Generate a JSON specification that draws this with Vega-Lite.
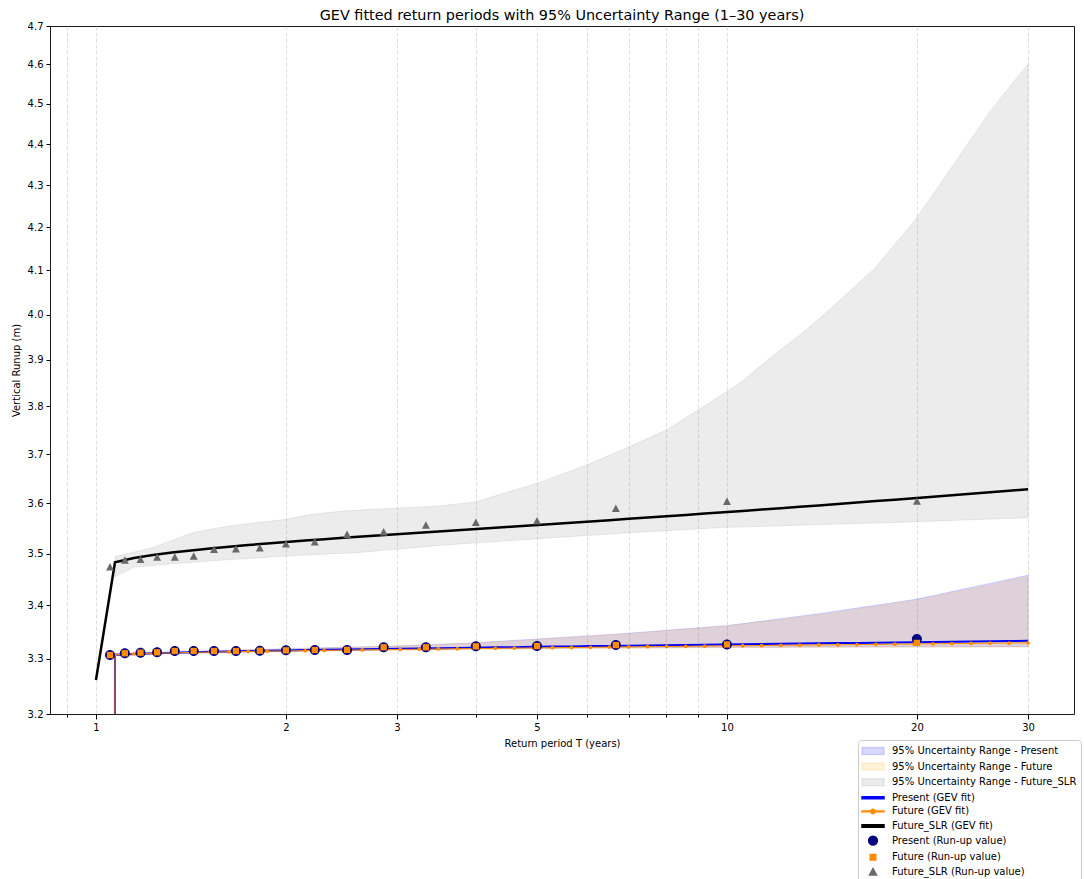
{
  "$schema": "https://vega.github.io/schema/vega-lite/v6.json",
  "width": 1024,
  "height": 688,
  "autosize": {"type": "none"},
  "padding": {"left": 50, "top": 26, "right": 10, "bottom": 165},
  "background": "white",
  "title": {
    "text": "GEV fitted return periods with 95% Uncertainty Range (1–30 years)",
    "font": "DejaVu Sans",
    "fontSize": 14.4,
    "fontWeight": "normal",
    "color": "black",
    "anchor": "middle",
    "offset": -2
  },
  "config": {
    "view": {"stroke": "#1a1a1a", "strokeWidth": 1},
    "font": "DejaVu Sans",
    "axis": {
      "labelFont": "DejaVu Sans",
      "labelFontSize": 10,
      "labelColor": "black",
      "titleFont": "DejaVu Sans",
      "titleFontSize": 10,
      "titleFontWeight": "normal",
      "titleColor": "black",
      "tickColor": "black",
      "domain": false
    }
  },
  "datasets": {
    "fit": [
      {"T": 1.0, "present": 0.001, "future": 0.001, "slr": 3.2613},
      {"T": 1.0719, "present": 3.3077, "future": 3.3080, "slr": 3.4833, "present_lo": 3.3062, "present_hi": 3.3090, "future_lo": 3.3054, "future_hi": 3.3085, "slr_lo": 3.4551, "slr_hi": 3.4940},
      {"T": 1.1489, "present": 3.3093, "future": 3.3094, "slr": 3.4914, "present_lo": 3.3078, "present_hi": 3.3101, "future_lo": 3.3070, "future_hi": 3.3096, "slr_lo": 3.4738, "slr_hi": 3.5029},
      {"T": 1.2315, "present": 3.3105, "future": 3.3104, "slr": 3.4972, "present_lo": 3.3090, "present_hi": 3.3112, "future_lo": 3.3082, "future_hi": 3.3107, "slr_lo": 3.4770, "slr_hi": 3.5118},
      {"T": 1.3200, "present": 3.3115, "future": 3.3112, "slr": 3.5020, "present_lo": 3.3100, "present_hi": 3.3123, "future_lo": 3.3092, "future_hi": 3.3118, "slr_lo": 3.4800, "slr_hi": 3.5257},
      {"T": 1.4149, "present": 3.3123, "future": 3.3120, "slr": 3.5062, "present_lo": 3.3108, "present_hi": 3.3135, "future_lo": 3.3100, "future_hi": 3.3130, "slr_lo": 3.4828, "slr_hi": 3.5403},
      {"T": 1.5166, "present": 3.3131, "future": 3.3126, "slr": 3.5100, "present_lo": 3.3116, "present_hi": 3.3146, "future_lo": 3.3108, "future_hi": 3.3141, "slr_lo": 3.4856, "slr_hi": 3.5479},
      {"T": 1.6256, "present": 3.3138, "future": 3.3132, "slr": 3.5135, "present_lo": 3.3123, "present_hi": 3.3157, "future_lo": 3.3115, "future_hi": 3.3152, "slr_lo": 3.4883, "slr_hi": 3.5544},
      {"T": 1.7425, "present": 3.3145, "future": 3.3138, "slr": 3.5167, "present_lo": 3.3129, "present_hi": 3.3168, "future_lo": 3.3121, "future_hi": 3.3163, "slr_lo": 3.4906, "slr_hi": 3.5589},
      {"T": 1.8677, "present": 3.3151, "future": 3.3143, "slr": 3.5198, "present_lo": 3.3135, "present_hi": 3.3179, "future_lo": 3.3127, "future_hi": 3.3174, "slr_lo": 3.4930, "slr_hi": 3.5633},
      {"T": 2.0020, "present": 3.3157, "future": 3.3148, "slr": 3.5228, "present_lo": 3.3140, "present_hi": 3.3190, "future_lo": 3.3132, "future_hi": 3.3185, "slr_lo": 3.4953, "slr_hi": 3.5677},
      {"T": 2.1459, "present": 3.3163, "future": 3.3153, "slr": 3.5257, "present_lo": 3.3145, "present_hi": 3.3199, "future_lo": 3.3137, "future_hi": 3.3194, "slr_lo": 3.4971, "slr_hi": 3.5757},
      {"T": 2.3001, "present": 3.3168, "future": 3.3158, "slr": 3.5284, "present_lo": 3.3150, "present_hi": 3.3207, "future_lo": 3.3142, "future_hi": 3.3202, "slr_lo": 3.4988, "slr_hi": 3.5801},
      {"T": 2.4655, "present": 3.3174, "future": 3.3162, "slr": 3.5311, "present_lo": 3.3155, "present_hi": 3.3216, "future_lo": 3.3147, "future_hi": 3.3211, "slr_lo": 3.5005, "slr_hi": 3.5843},
      {"T": 2.6427, "present": 3.3179, "future": 3.3167, "slr": 3.5337, "present_lo": 3.3160, "present_hi": 3.3224, "future_lo": 3.3152, "future_hi": 3.3219, "slr_lo": 3.5027, "slr_hi": 3.5866},
      {"T": 2.8327, "present": 3.3184, "future": 3.3171, "slr": 3.5362, "present_lo": 3.3164, "present_hi": 3.3233, "future_lo": 3.3156, "future_hi": 3.3228, "slr_lo": 3.5060, "slr_hi": 3.5885},
      {"T": 3.0363, "present": 3.3189, "future": 3.3175, "slr": 3.5387, "present_lo": 3.3168, "present_hi": 3.3243, "future_lo": 3.3160, "future_hi": 3.3238, "slr_lo": 3.5093, "slr_hi": 3.5904},
      {"T": 3.2545, "present": 3.3194, "future": 3.3179, "slr": 3.5412, "present_lo": 3.3172, "present_hi": 3.3257, "future_lo": 3.3164, "future_hi": 3.3252, "slr_lo": 3.5126, "slr_hi": 3.5923},
      {"T": 3.4885, "present": 3.3199, "future": 3.3184, "slr": 3.5436, "present_lo": 3.3176, "present_hi": 3.3272, "future_lo": 3.3168, "future_hi": 3.3267, "slr_lo": 3.5159, "slr_hi": 3.5942},
      {"T": 3.7392, "present": 3.3204, "future": 3.3188, "slr": 3.5461, "present_lo": 3.3180, "present_hi": 3.3286, "future_lo": 3.3172, "future_hi": 3.3281, "slr_lo": 3.5186, "slr_hi": 3.5986},
      {"T": 4.0080, "present": 3.3209, "future": 3.3192, "slr": 3.5485, "present_lo": 3.3184, "present_hi": 3.3301, "future_lo": 3.3176, "future_hi": 3.3296, "slr_lo": 3.5212, "slr_hi": 3.6031},
      {"T": 4.2961, "present": 3.3214, "future": 3.3196, "slr": 3.5510, "present_lo": 3.3187, "present_hi": 3.3323, "future_lo": 3.3179, "future_hi": 3.3313, "slr_lo": 3.5237, "slr_hi": 3.6148},
      {"T": 4.6049, "present": 3.3218, "future": 3.3200, "slr": 3.5535, "present_lo": 3.3190, "present_hi": 3.3344, "future_lo": 3.3182, "future_hi": 3.3334, "slr_lo": 3.5262, "slr_hi": 3.6264},
      {"T": 4.9359, "present": 3.3223, "future": 3.3203, "slr": 3.5560, "present_lo": 3.3193, "present_hi": 3.3366, "future_lo": 3.3185, "future_hi": 3.3356, "slr_lo": 3.5288, "slr_hi": 3.6380},
      {"T": 5.2907, "present": 3.3228, "future": 3.3207, "slr": 3.5585, "present_lo": 3.3196, "present_hi": 3.3388, "future_lo": 3.3188, "future_hi": 3.3378, "slr_lo": 3.5312, "slr_hi": 3.6518},
      {"T": 5.6710, "present": 3.3232, "future": 3.3211, "slr": 3.5610, "present_lo": 3.3199, "present_hi": 3.3409, "future_lo": 3.3191, "future_hi": 3.3399, "slr_lo": 3.5337, "slr_hi": 3.6661},
      {"T": 6.0786, "present": 3.3237, "future": 3.3215, "slr": 3.5635, "present_lo": 3.3201, "present_hi": 3.3431, "future_lo": 3.3193, "future_hi": 3.3421, "slr_lo": 3.5361, "slr_hi": 3.6810},
      {"T": 6.5155, "present": 3.3241, "future": 3.3219, "slr": 3.5661, "present_lo": 3.3203, "present_hi": 3.3453, "future_lo": 3.3195, "future_hi": 3.3443, "slr_lo": 3.5386, "slr_hi": 3.6978},
      {"T": 6.9838, "present": 3.3246, "future": 3.3222, "slr": 3.5687, "present_lo": 3.3205, "present_hi": 3.3478, "future_lo": 3.3197, "future_hi": 3.3468, "slr_lo": 3.5410, "slr_hi": 3.7148},
      {"T": 7.4858, "present": 3.3250, "future": 3.3226, "slr": 3.5712, "present_lo": 3.3207, "present_hi": 3.3505, "future_lo": 3.3199, "future_hi": 3.3495, "slr_lo": 3.5431, "slr_hi": 3.7324},
      {"T": 8.0239, "present": 3.3254, "future": 3.3230, "slr": 3.5739, "present_lo": 3.3209, "present_hi": 3.3533, "future_lo": 3.3201, "future_hi": 3.3523, "slr_lo": 3.5452, "slr_hi": 3.7501},
      {"T": 8.6006, "present": 3.3259, "future": 3.3233, "slr": 3.5765, "present_lo": 3.3211, "present_hi": 3.3560, "future_lo": 3.3203, "future_hi": 3.3550, "slr_lo": 3.5473, "slr_hi": 3.7758},
      {"T": 9.2188, "present": 3.3263, "future": 3.3237, "slr": 3.5792, "present_lo": 3.3213, "present_hi": 3.3588, "future_lo": 3.3205, "future_hi": 3.3578, "slr_lo": 3.5494, "slr_hi": 3.8014},
      {"T": 9.8815, "present": 3.3267, "future": 3.3241, "slr": 3.5818, "present_lo": 3.3214, "present_hi": 3.3615, "future_lo": 3.3206, "future_hi": 3.3605, "slr_lo": 3.5515, "slr_hi": 3.8273},
      {"T": 10.5918, "present": 3.3272, "future": 3.3244, "slr": 3.5845, "present_lo": 3.3216, "present_hi": 3.3658, "future_lo": 3.3208, "future_hi": 3.3648, "slr_lo": 3.5527, "slr_hi": 3.8543},
      {"T": 11.3531, "present": 3.3276, "future": 3.3248, "slr": 3.5873, "present_lo": 3.3217, "present_hi": 3.3705, "future_lo": 3.3209, "future_hi": 3.3695, "slr_lo": 3.5538, "slr_hi": 3.8893},
      {"T": 12.1691, "present": 3.3280, "future": 3.3252, "slr": 3.5900, "present_lo": 3.3218, "present_hi": 3.3751, "future_lo": 3.3210, "future_hi": 3.3731, "slr_lo": 3.5550, "slr_hi": 3.9229},
      {"T": 13.0438, "present": 3.3285, "future": 3.3255, "slr": 3.5928, "present_lo": 3.3219, "present_hi": 3.3798, "future_lo": 3.3211, "future_hi": 3.3778, "slr_lo": 3.5561, "slr_hi": 3.9542},
      {"T": 13.9814, "present": 3.3289, "future": 3.3259, "slr": 3.5956, "present_lo": 3.3220, "present_hi": 3.3844, "future_lo": 3.3212, "future_hi": 3.3824, "slr_lo": 3.5572, "slr_hi": 3.9900},
      {"T": 14.9864, "present": 3.3293, "future": 3.3262, "slr": 3.5984, "present_lo": 3.3221, "present_hi": 3.3898, "future_lo": 3.3213, "future_hi": 3.3878, "slr_lo": 3.5583, "slr_hi": 4.0283},
      {"T": 16.0636, "present": 3.3297, "future": 3.3266, "slr": 3.6013, "present_lo": 3.3222, "present_hi": 3.3951, "future_lo": 3.3214, "future_hi": 3.3931, "slr_lo": 3.5594, "slr_hi": 4.0671},
      {"T": 17.2182, "present": 3.3301, "future": 3.3269, "slr": 3.6042, "present_lo": 3.3223, "present_hi": 3.4005, "future_lo": 3.3215, "future_hi": 3.3985, "slr_lo": 3.5605, "slr_hi": 4.1077},
      {"T": 18.4558, "present": 3.3306, "future": 3.3273, "slr": 3.6071, "present_lo": 3.3224, "present_hi": 3.4059, "future_lo": 3.3216, "future_hi": 3.4039, "slr_lo": 3.5616, "slr_hi": 4.1603},
      {"T": 19.7824, "present": 3.3310, "future": 3.3277, "slr": 3.6100, "present_lo": 3.3225, "present_hi": 3.4112, "future_lo": 3.3217, "future_hi": 3.4092, "slr_lo": 3.5627, "slr_hi": 4.2132},
      {"T": 21.2043, "present": 3.3314, "future": 3.3280, "slr": 3.6130, "present_lo": 3.3225, "present_hi": 3.4186, "future_lo": 3.3217, "future_hi": 3.4166, "slr_lo": 3.5641, "slr_hi": 4.2776},
      {"T": 22.7284, "present": 3.3318, "future": 3.3284, "slr": 3.6159, "present_lo": 3.3226, "present_hi": 3.4265, "future_lo": 3.3218, "future_hi": 3.4245, "slr_lo": 3.5654, "slr_hi": 4.3440},
      {"T": 24.3621, "present": 3.3322, "future": 3.3287, "slr": 3.6190, "present_lo": 3.3226, "present_hi": 3.4344, "future_lo": 3.3218, "future_hi": 3.4314, "slr_lo": 3.5668, "slr_hi": 4.4119},
      {"T": 26.1132, "present": 3.3327, "future": 3.3291, "slr": 3.6220, "present_lo": 3.3227, "present_hi": 3.4422, "future_lo": 3.3219, "future_hi": 3.4392, "slr_lo": 3.5682, "slr_hi": 4.4804},
      {"T": 27.9901, "present": 3.3331, "future": 3.3294, "slr": 3.6251, "present_lo": 3.3227, "present_hi": 3.4501, "future_lo": 3.3219, "future_hi": 3.4471, "slr_lo": 3.5695, "slr_hi": 4.5413},
      {"T": 30.0, "present": 3.3335, "future": 3.3298, "slr": 3.6282, "present_lo": 3.3228, "present_hi": 3.4580, "future_lo": 3.3220, "future_hi": 3.4550, "slr_lo": 3.5709, "slr_hi": 4.6003}
    ],
    "obs": [
      {"T": 1.0526, "present": 3.3072, "future": 3.3072, "slr": 3.4745},
      {"T": 1.1111, "present": 3.3104, "future": 3.3104, "slr": 3.4875},
      {"T": 1.1765, "present": 3.3115, "future": 3.3115, "slr": 3.4889},
      {"T": 1.25, "present": 3.3122, "future": 3.3122, "slr": 3.4934},
      {"T": 1.3333, "present": 3.3146, "future": 3.3146, "slr": 3.4934},
      {"T": 1.4286, "present": 3.3146, "future": 3.3146, "slr": 3.4953},
      {"T": 1.5385, "present": 3.3146, "future": 3.3146, "slr": 3.5084},
      {"T": 1.6667, "present": 3.3146, "future": 3.3146, "slr": 3.5096},
      {"T": 1.8182, "present": 3.3152, "future": 3.3152, "slr": 3.5115},
      {"T": 2.0, "present": 3.3159, "future": 3.3159, "slr": 3.5194},
      {"T": 2.2222, "present": 3.3165, "future": 3.3165, "slr": 3.5233},
      {"T": 2.5, "present": 3.3167, "future": 3.3167, "slr": 3.5379},
      {"T": 2.8571, "present": 3.3215, "future": 3.3215, "slr": 3.5430},
      {"T": 3.3333, "present": 3.3215, "future": 3.3215, "slr": 3.5563},
      {"T": 4.0, "present": 3.3233, "future": 3.3233, "slr": 3.5617},
      {"T": 5.0, "present": 3.3238, "future": 3.3238, "slr": 3.5649},
      {"T": 6.6667, "present": 3.3256, "future": 3.3256, "slr": 3.5897},
      {"T": 10.0, "present": 3.3268, "future": 3.3268, "slr": 3.6038},
      {"T": 20.0, "present": 3.3369, "future": 3.3297, "slr": 3.6044}
    ]
  },
  "encoding": {
    "x": {
      "field": "T",
      "type": "quantitative",
      "scale": {"type": "log", "domain": [0.8456, 35.48], "nice": false, "zero": false},
      "axis": {
        "title": "Return period T (years)",
        "values": [0.9, 1, 2, 3, 4, 5, 6, 7, 8, 9, 10, 20, 30],
        "format": "~g",
        "labelExpr": "indexof([1, 2, 3, 5, 10, 20, 30], datum.value) >= 0 ? datum.label : ''",
        "labelOverlap": false,
        "labelFlush": false,
        "labelPadding": 3,
        "tickSize": {"condition": {"test": "indexof([1, 2, 3, 5, 10, 20, 30], datum.value) >= 0", "value": 5}, "value": 3},
        "grid": true,
        "gridDash": [4, 2],
        "gridColor": "#c8c8c8",
        "gridOpacity": 0.7,
        "gridWidth": 0.8,
        "titlePadding": 6
      }
    }
  },
  "layer": [
    {
      "data": {"name": "fit"},
      "mark": {"type": "area", "stroke": "rgba(0,0,255,0.15)", "strokeWidth": 1},
      "encoding": {
        "y": {"field": "present_lo", "type": "quantitative", "scale": {"type": "log", "domain": [3.2, 4.7], "nice": false, "zero": false},
          "axis": {"title": "Vertical Runup (m)", "values": [3.2, 3.3, 3.4, 3.5, 3.6, 3.7, 3.8, 3.9, 4.0, 4.1, 4.2, 4.3, 4.4, 4.5, 4.6, 4.7], "format": ".1f", "tickSize": 4, "grid": false, "labelOverlap": false, "labelFlush": false, "labelPadding": 3, "titlePadding": 6}},
        "y2": {"field": "present_hi"},
        "color": {
          "datum": "95% Uncertainty Range - Present",
          "type": "nominal",
          "scale": {
            "domain": [
              "95% Uncertainty Range - Present",
              "95% Uncertainty Range - Future",
              "95% Uncertainty Range - Future_SLR",
              "Present (GEV fit)",
              "Future (GEV fit)",
              "Future_SLR (GEV fit)",
              "Present (Run-up value)",
              "Future (Run-up value)",
              "Future_SLR (Run-up value)"
            ],
            "range": [
              "rgba(0,0,255,0.15)",
              "rgba(255,165,0,0.15)",
              "rgba(128,128,128,0.15)",
              "#0000ff",
              "#ff8c00",
              "#000000",
              "#000080",
              "#ff8c00",
              "#696969"
            ]
          },
          "legend": {
            "title": null,
            "orient": "none",
            "legendX": 808,
            "legendY": 714,
            "padding": 4,
            "fillColor": "rgba(255,255,255,0.8)",
            "strokeColor": "#cccccc",
            "cornerRadius": 3,
            "labelFont": "DejaVu Sans",
            "labelFontSize": 10,
            "labelColor": "black",
            "labelLimit": 0,
            "symbolSize": 144,
            "symbolOffset": 4,
            "labelOffset": 12,
            "rowPadding": 1.6,
            "encode": {
              "symbols": {
                "update": {
                  "shape": {"scale": "shape", "field": "value"},
                  "fill": {"scale": "color", "field": "value"},
                  "stroke": [{"test": "indexof(datum.value, '95%') === 0", "scale": "color", "field": "value"}, {"value": "transparent"}],
                  "strokeWidth": {"value": 1},
                  "opacity": {"value": 1},
                  "size": {"value": 144}
                }
              }
            }
          }
        }
      }
    },
    {
      "data": {"name": "fit"},
      "mark": {"type": "area", "stroke": "rgba(255,165,0,0.15)", "strokeWidth": 1},
      "encoding": {
        "y": {"field": "future_lo", "type": "quantitative", "scale": {"type": "log", "domain": [3.2, 4.7], "nice": false, "zero": false},
          "axis": {"title": "Vertical Runup (m)", "values": [3.2, 3.3, 3.4, 3.5, 3.6, 3.7, 3.8, 3.9, 4.0, 4.1, 4.2, 4.3, 4.4, 4.5, 4.6, 4.7], "format": ".1f", "tickSize": 4, "grid": false, "labelOverlap": false, "labelFlush": false, "labelPadding": 3, "titlePadding": 6}},
        "y2": {"field": "future_hi"},
        "color": {"datum": "95% Uncertainty Range - Future", "type": "nominal"}
      }
    },
    {
      "data": {"name": "fit"},
      "mark": {"type": "area", "stroke": "rgba(128,128,128,0.15)", "strokeWidth": 1},
      "encoding": {
        "y": {"field": "slr_lo", "type": "quantitative", "scale": {"type": "log", "domain": [3.2, 4.7], "nice": false, "zero": false},
          "axis": {"title": "Vertical Runup (m)", "values": [3.2, 3.3, 3.4, 3.5, 3.6, 3.7, 3.8, 3.9, 4.0, 4.1, 4.2, 4.3, 4.4, 4.5, 4.6, 4.7], "format": ".1f", "tickSize": 4, "grid": false, "labelOverlap": false, "labelFlush": false, "labelPadding": 3, "titlePadding": 6}},
        "y2": {"field": "slr_hi"},
        "color": {"datum": "95% Uncertainty Range - Future_SLR", "type": "nominal"}
      }
    },
    {
      "data": {"name": "fit"},
      "mark": {"type": "line", "strokeWidth": 2, "clip": true},
      "encoding": {
        "y": {"field": "present", "type": "quantitative", "scale": {"type": "log", "domain": [3.2, 4.7], "nice": false, "zero": false},
          "axis": {"title": "Vertical Runup (m)", "values": [3.2, 3.3, 3.4, 3.5, 3.6, 3.7, 3.8, 3.9, 4.0, 4.1, 4.2, 4.3, 4.4, 4.5, 4.6, 4.7], "format": ".1f", "tickSize": 4, "grid": false, "labelOverlap": false, "labelFlush": false, "labelPadding": 3, "titlePadding": 6}},
        "color": {"datum": "Present (GEV fit)", "type": "nominal"}
      }
    },
    {
      "data": {"name": "fit"},
      "mark": {"type": "line", "strokeWidth": 1, "clip": true, "point": {"filled": true, "size": 14, "color": "#ff8c00"}},
      "encoding": {
        "y": {"field": "future", "type": "quantitative", "scale": {"type": "log", "domain": [3.2, 4.7], "nice": false, "zero": false},
          "axis": {"title": "Vertical Runup (m)", "values": [3.2, 3.3, 3.4, 3.5, 3.6, 3.7, 3.8, 3.9, 4.0, 4.1, 4.2, 4.3, 4.4, 4.5, 4.6, 4.7], "format": ".1f", "tickSize": 4, "grid": false, "labelOverlap": false, "labelFlush": false, "labelPadding": 3, "titlePadding": 6}},
        "color": {"datum": "Future (GEV fit)", "type": "nominal"}
      }
    },
    {
      "data": {"name": "fit"},
      "mark": {"type": "line", "strokeWidth": 2.5, "clip": true},
      "encoding": {
        "y": {"field": "slr", "type": "quantitative", "scale": {"type": "log", "domain": [3.2, 4.7], "nice": false, "zero": false},
          "axis": {"title": "Vertical Runup (m)", "values": [3.2, 3.3, 3.4, 3.5, 3.6, 3.7, 3.8, 3.9, 4.0, 4.1, 4.2, 4.3, 4.4, 4.5, 4.6, 4.7], "format": ".1f", "tickSize": 4, "grid": false, "labelOverlap": false, "labelFlush": false, "labelPadding": 3, "titlePadding": 6}},
        "color": {"datum": "Future_SLR (GEV fit)", "type": "nominal"}
      }
    },
    {
      "data": {"name": "obs"},
      "mark": {"type": "point", "filled": true, "size": 188, "opacity": 1, "clip": true},
      "encoding": {
        "y": {"field": "present", "type": "quantitative", "scale": {"type": "log", "domain": [3.2, 4.7], "nice": false, "zero": false},
          "axis": {"title": "Vertical Runup (m)", "values": [3.2, 3.3, 3.4, 3.5, 3.6, 3.7, 3.8, 3.9, 4.0, 4.1, 4.2, 4.3, 4.4, 4.5, 4.6, 4.7], "format": ".1f", "tickSize": 4, "grid": false, "labelOverlap": false, "labelFlush": false, "labelPadding": 3, "titlePadding": 6}},
        "color": {"datum": "Present (Run-up value)", "type": "nominal"},
        "shape": {
          "datum": "Present (Run-up value)",
          "type": "nominal",
          "legend": null,
          "scale": {
            "domain": [
              "95% Uncertainty Range - Present",
              "95% Uncertainty Range - Future",
              "95% Uncertainty Range - Future_SLR",
              "Present (GEV fit)",
              "Future (GEV fit)",
              "Future_SLR (GEV fit)",
              "Present (Run-up value)",
              "Future (Run-up value)",
              "Future_SLR (Run-up value)"
            ],
            "range": [
              "M-1.83,-0.58H1.83V0.58H-1.83Z",
              "M-1.83,-0.58H1.83V0.58H-1.83Z",
              "M-1.83,-0.58H1.83V0.58H-1.83Z",
              "M-1.83,-0.17H1.83V0.17H-1.83Z",
              "M-1.83,-0.07H-0.34V0.07H-1.83Z M0.34,-0.07H1.83V0.07H0.34Z M-0.36,0A0.36,0.36 0 1,0 0.36,0A0.36,0.36 0 1,0 -0.36,0Z",
              "M-1.83,-0.21H1.83V0.21H-1.83Z",
              "M-0.73,0A0.73,0.73 0 1,0 0.73,0A0.73,0.73 0 1,0 -0.73,0Z",
              "M-0.46,-0.46H0.46V0.46H-0.46Z",
              "M0,-0.55L0.58,0.55L-0.58,0.55Z"
            ]
          }
        }
      }
    },
    {
      "data": {"name": "obs"},
      "mark": {"type": "point", "filled": true, "size": 188, "opacity": 1, "clip": true},
      "encoding": {
        "y": {"field": "future", "type": "quantitative", "scale": {"type": "log", "domain": [3.2, 4.7], "nice": false, "zero": false},
          "axis": {"title": "Vertical Runup (m)", "values": [3.2, 3.3, 3.4, 3.5, 3.6, 3.7, 3.8, 3.9, 4.0, 4.1, 4.2, 4.3, 4.4, 4.5, 4.6, 4.7], "format": ".1f", "tickSize": 4, "grid": false, "labelOverlap": false, "labelFlush": false, "labelPadding": 3, "titlePadding": 6}},
        "color": {"datum": "Future (Run-up value)", "type": "nominal"},
        "shape": {"datum": "Future (Run-up value)", "type": "nominal", "legend": null}
      }
    },
    {
      "data": {"name": "obs"},
      "mark": {"type": "point", "filled": true, "size": 188, "opacity": 1, "clip": true},
      "encoding": {
        "y": {"field": "slr", "type": "quantitative", "scale": {"type": "log", "domain": [3.2, 4.7], "nice": false, "zero": false},
          "axis": {"title": "Vertical Runup (m)", "values": [3.2, 3.3, 3.4, 3.5, 3.6, 3.7, 3.8, 3.9, 4.0, 4.1, 4.2, 4.3, 4.4, 4.5, 4.6, 4.7], "format": ".1f", "tickSize": 4, "grid": false, "labelOverlap": false, "labelFlush": false, "labelPadding": 3, "titlePadding": 6}},
        "color": {"datum": "Future_SLR (Run-up value)", "type": "nominal"},
        "shape": {"datum": "Future_SLR (Run-up value)", "type": "nominal", "legend": null}
      }
    }
  ]
}
